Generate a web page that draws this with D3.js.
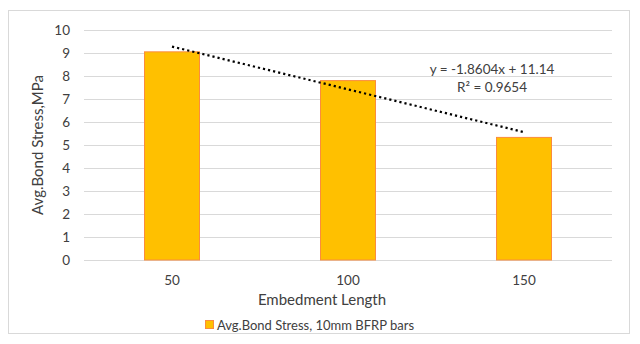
<!DOCTYPE html>
<html>
<head>
<meta charset="utf-8">
<script src="https://cdn.jsdelivr.net/npm/d3@7"></script>
<style>
  body { margin: 0; background: #fff; }
  text { font-family: Lato, "Open Sans", sans-serif; fill: #404040; }
</style>
</head>
<body>
<div id="chart"></div>
<script>
// data
const categories = ["50", "100", "150"]
const stress = [9.05, 7.80, 5.33]
const yTicks = [0, 1, 2, 3, 4, 5, 6, 7, 8, 9, 10]
const trendCoef = [-1.8604, 11.14]   // slope, intercept (x = category index 1..n)
const trendLabels = ["y = -1.8604x + 11.14", "R² = 0.9654"]
const seriesName = "Avg.Bond Stress, 10mm BFRP bars"

const width = 640, height = 344
const plot = { left: 84, right: 612, top: 30, bottom: 260 }

const svg = d3.select("#chart").append("svg")
    .attr("width", width)
    .attr("height", height)

// outer frame
svg.append("rect")
    .attr("x", 8.5).attr("y", 10.5)
    .attr("width", 621).attr("height", 323)
    .style("fill", "#fff")
    .style("stroke", "#d9d9d9")

// scales
const x = d3.scaleBand()
    .domain(categories)
    .range([plot.left, plot.right])
    .padding(0)

const y = d3.scaleLinear()
    .domain([0, 10])
    .range([plot.bottom, plot.top])

// gridlines
svg.append("g")
    .selectAll("line")
    .data(yTicks)
    .enter().append("line")
    .attr("x1", plot.left).attr("x2", plot.right)
    .attr("y1", d => Math.round(y(d)) + 0.5)
    .attr("y2", d => Math.round(y(d)) + 0.5)
    .style("stroke", "#d9d9d9")
    .style("stroke-width", 1)

// y tick labels
svg.append("g")
    .selectAll("text")
    .data(yTicks)
    .enter().append("text")
    .attr("x", 70)
    .attr("y", d => y(d))
    .attr("dy", "0.35em")
    .attr("text-anchor", "end")
    .style("font-size", "13.5px")
    .text(d => d)

// bars
const barW = 55
svg.append("g")
    .selectAll("rect")
    .data(stress)
    .enter().append("rect")
    .attr("x", (d, i) => x(categories[i]) + x.bandwidth() / 2 - barW / 2)
    .attr("y", d => y(d))
    .attr("width", barW)
    .attr("height", d => plot.bottom - y(d))
    .style("fill", "#ffc000")
    .style("stroke", "#f4a460")
    .style("stroke", "#fb8c3c")
    .style("stroke-width", 1)

// x tick labels
svg.append("g")
    .selectAll("text")
    .data(categories)
    .enter().append("text")
    .attr("x", d => x(d) + x.bandwidth() / 2)
    .attr("y", 280)
    .attr("dy", "0.35em")
    .attr("text-anchor", "middle")
    .style("font-size", "13.5px")
    .text(d => d)

// trendline
const trendX = d3.scaleLinear()
    .domain([1, categories.length])
    .range([x(categories[0]) + x.bandwidth() / 2, x(categories[categories.length - 1]) + x.bandwidth() / 2])
svg.append("line")
    .attr("x1", trendX(1))
    .attr("x2", trendX(categories.length))
    .attr("y1", y(trendCoef[0] * 1 + trendCoef[1]))
    .attr("y2", y(trendCoef[0] * categories.length + trendCoef[1]))
    .style("stroke", "#000")
    .style("stroke-width", 2.2)
    .style("stroke-dasharray", "2.2, 3")

// trend equation
svg.append("g")
    .selectAll("text")
    .data(trendLabels)
    .enter().append("text")
    .attr("x", 492)
    .attr("y", (d, i) => 69 + i * 18)
    .attr("dy", "0.35em")
    .attr("text-anchor", "middle")
    .style("font-size", "13.5px")
    .text(d => d)

// axis titles
svg.append("text")
    .attr("x", 322)
    .attr("y", 300)
    .attr("dy", "0.35em")
    .attr("text-anchor", "middle")
    .style("font-size", "15px")
    .text("Embedment Length")

svg.append("text")
    .attr("transform", "translate(38,145) rotate(-90)")
    .attr("dy", "0.35em")
    .attr("text-anchor", "middle")
    .style("font-size", "15px")
    .text("Avg.Bond Stress,MPa")

// legend
svg.append("rect")
    .attr("x", 205.5).attr("y", 320.5)
    .attr("width", 8).attr("height", 8)
    .style("fill", "#ffc000")
    .style("stroke", "#fb8c3c")
svg.append("text")
    .attr("x", 217)
    .attr("y", 325)
    .attr("dy", "0.35em")
    .style("font-size", "13px")
    .text(seriesName)
</script>
</body>
</html>
